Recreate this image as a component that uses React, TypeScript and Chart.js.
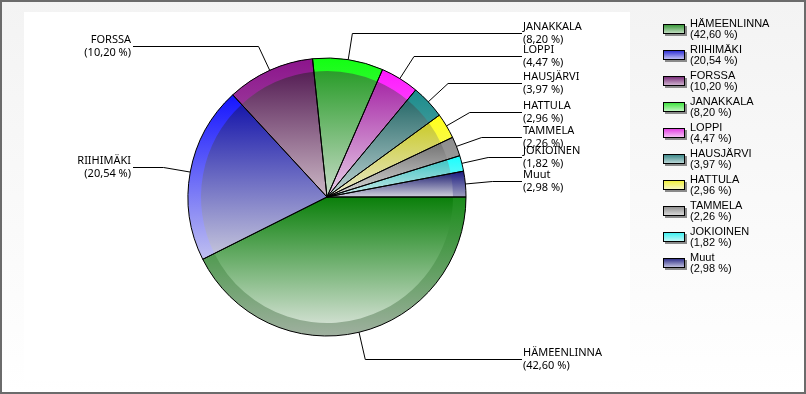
import React, { useEffect, useRef } from 'react';
import { Chart, registerables } from 'chart.js';

Chart.register(...registerables);

// ---- data ----
const categories = ['HÄMEENLINNA', 'RIIHIMÄKI', 'FORSSA', 'JANAKKALA', 'LOPPI', 'HAUSJÄRVI', 'HATTULA', 'TAMMELA', 'JOKIOINEN', 'Muut'];
const shares = [42.6, 20.54, 10.2, 8.2, 4.47, 3.97, 2.96, 2.26, 1.82, 2.98];

// ---- styles ----
const innerTop = ['#0a7f0a', '#0c0ca8', '#4a0f4a', '#1a961a', '#a018a0', '#1a6060', '#c8c81a', '#6a6a6a', '#30c0c0', '#14146c'];
const innerBottom = ['#e2e8e2', '#c8c8dc', '#ccb8c6', '#c8dcc8', '#e8d0e8', '#c0d4d4', '#e8e8d0', '#d8d8d8', '#d0eaea', '#d0d0dc'];
const rimTop = ['#1a8c1a', '#1414ff', '#8c148c', '#12ff12', '#ff18ff', '#1a8c8c', '#ffff18', '#8c8c8c', '#18ffff', '#1a1a80'];
const rimBottom = ['#a0b0a0', '#c0c0f0', '#b070b0', '#a0e0a0', '#f0a0f0', '#80b0b0', '#f0f0a0', '#b0b0b0', '#a0f0f0', '#a0a0c0'];
const legendTop = ['#2a8f2a', '#2020d0', '#702070', '#30e030', '#e030e0', '#308080', '#f0f030', '#8a8a8a', '#30f0f0', '#202080'];
const legendBottom = ['#d0e4d0', '#d0d0f8', '#d8c0d8', '#d0f8d0', '#f8d0f8', '#c8e0e0', '#f8f8d0', '#e0e0e0', '#d0f8f8', '#d0d0e8'];

const W = 806;
const H = 394;
const RIM = 13;
const LABEL_FONT = '11px "Noto Sans", "DejaVu Sans", sans-serif';
const LEGEND_FONT = '11px "Liberation Sans", Arial, sans-serif';

const pctText = (v: number) => `(${v.toFixed(2).replace('.', ',')} %)`;

function sectorYRange(cy: number, r: number, a0: number, a1: number): [number, number] {
  const ys = [cy, cy + r * Math.sin(a0), cy + r * Math.sin(a1)];
  for (let k = -6; k <= 6; k++) {
    const a = Math.PI / 2 + k * Math.PI;
    if (a > a0 && a < a1) ys.push(cy + r * Math.sin(a));
  }
  return [Math.min(...ys), Math.max(...ys)];
}

const decor = {
  id: 'decor',
  beforeDraw(chart: any) {
    const ctx = chart.ctx as CanvasRenderingContext2D;
    ctx.save();
    const g = ctx.createLinearGradient(0, 0, 0, H);
    g.addColorStop(0, '#f3f3f3');
    g.addColorStop(1, '#ffffff');
    ctx.fillStyle = g;
    ctx.fillRect(0, 0, W, H);
    ctx.fillStyle = '#ffffff';
    ctx.fillRect(24, 12, 606, 369);
    ctx.strokeStyle = '#6b6b6b';
    ctx.lineWidth = 2;
    ctx.strokeRect(1, 1, W - 2, H - 2);
    ctx.restore();
  },
  beforeDatasetsDraw(chart: any) {
    const ctx = chart.ctx as CanvasRenderingContext2D;
    const arcs = chart.getDatasetMeta(0).data;
    ctx.save();
    arcs.forEach((arc: any, i: number) => {
      const { x, y, startAngle, endAngle, outerRadius: r } = arc;
      const [y0, y1] = sectorYRange(y, r, startAngle, endAngle);
      const gi = ctx.createLinearGradient(0, y0, 0, Math.max(y1, y0 + 1));
      gi.addColorStop(0, innerTop[i]);
      gi.addColorStop(1, innerBottom[i]);
      ctx.beginPath();
      ctx.moveTo(x, y);
      ctx.arc(x, y, r, startAngle, endAngle);
      ctx.closePath();
      ctx.fillStyle = gi;
      ctx.fill();
      const gr = ctx.createLinearGradient(0, y0, 0, Math.max(y1, y0 + 1));
      gr.addColorStop(0, rimTop[i]);
      gr.addColorStop(1, rimBottom[i]);
      ctx.beginPath();
      ctx.arc(x, y, r, startAngle, endAngle);
      ctx.arc(x, y, r - RIM, endAngle, startAngle, true);
      ctx.closePath();
      ctx.fillStyle = gr;
      ctx.fill();
    });
    ctx.restore();
  },
  afterDatasetsDraw(chart: any) {
    const ctx = chart.ctx as CanvasRenderingContext2D;
    const arcs = chart.getDatasetMeta(0).data;
    ctx.save();
    ctx.font = LABEL_FONT;
    ctx.fillStyle = '#000';
    ctx.strokeStyle = '#000';
    ctx.lineWidth = 1;
    arcs.forEach((arc: any, i: number) => {
      const { x, y, startAngle, endAngle, outerRadius: r } = arc;
      const mid = (startAngle + endAngle) / 2;
      const ex = x + r * Math.cos(mid);
      const ey = y + r * Math.sin(mid);
      const bx = x + r * 1.195 * Math.cos(mid);
      const by = Math.round(y + r * 1.195 * Math.sin(mid)) + 0.5;
      const right = Math.cos(mid) >= 0;
      const col = right ? x + r * 1.41 : x - r * 1.41;
      ctx.beginPath();
      ctx.moveTo(ex, ey);
      ctx.lineTo(bx, by);
      ctx.lineTo(right ? col - 1 : col + 2, by);
      ctx.stroke();
      ctx.textAlign = right ? 'left' : 'right';
      ctx.textBaseline = 'alphabetic';
      ctx.fillText(categories[i], col, by - 3.5);
      ctx.fillText(pctText(shares[i]), col, by + 9.5);
    });
    ctx.restore();
  },
  afterDraw(chart: any) {
    const ctx = chart.ctx as CanvasRenderingContext2D;
    ctx.save();
    ctx.font = LEGEND_FONT;
    ctx.textAlign = 'left';
    ctx.textBaseline = 'alphabetic';
    categories.forEach((name, i) => {
      const top = 24 + 26 * i;
      ctx.fillStyle = '#8a8a8a';
      ctx.fillRect(665, top + 2, 22, 10);
      const g = ctx.createLinearGradient(0, top, 0, top + 10);
      g.addColorStop(0, legendTop[i]);
      g.addColorStop(1, legendBottom[i]);
      ctx.fillStyle = g;
      ctx.fillRect(663, top, 22, 10);
      ctx.strokeStyle = '#000';
      ctx.lineWidth = 1;
      ctx.strokeRect(663.5, top + 0.5, 21, 9);
      ctx.fillStyle = '#000';
      ctx.fillText(name, 690, top + 3);
      ctx.fillText(pctText(shares[i]), 690, top + 14);
    });
    ctx.restore();
  },
};

export default function App() {
  const ref = useRef<HTMLCanvasElement | null>(null);
  useEffect(() => {
    if (!ref.current) return;
    const chart = new Chart(ref.current, {
      type: 'pie',
      data: {
        labels: categories,
        datasets: [
          {
            data: shares,
            backgroundColor: 'rgba(0,0,0,0)',
            borderColor: '#000',
            borderWidth: 1,
            hoverOffset: 0,
          },
        ],
      },
      options: {
        responsive: false,
        animation: false,
        devicePixelRatio: 1,
        events: [],
        rotation: 90,
        radius: 139,
        layout: { padding: { left: 188, right: 340, top: 58, bottom: 58 } },
        plugins: { legend: { display: false }, tooltip: { enabled: false } },
      } as any,
      plugins: [decor],
    });
    return () => chart.destroy();
  }, []);
  return (
    <div style={{ position: 'fixed', left: 0, top: 0, width: W, height: H, overflow: 'hidden' }}>
      <canvas ref={ref} width={W} height={H} style={{ display: 'block', width: W, height: H }} />
    </div>
  );
}
